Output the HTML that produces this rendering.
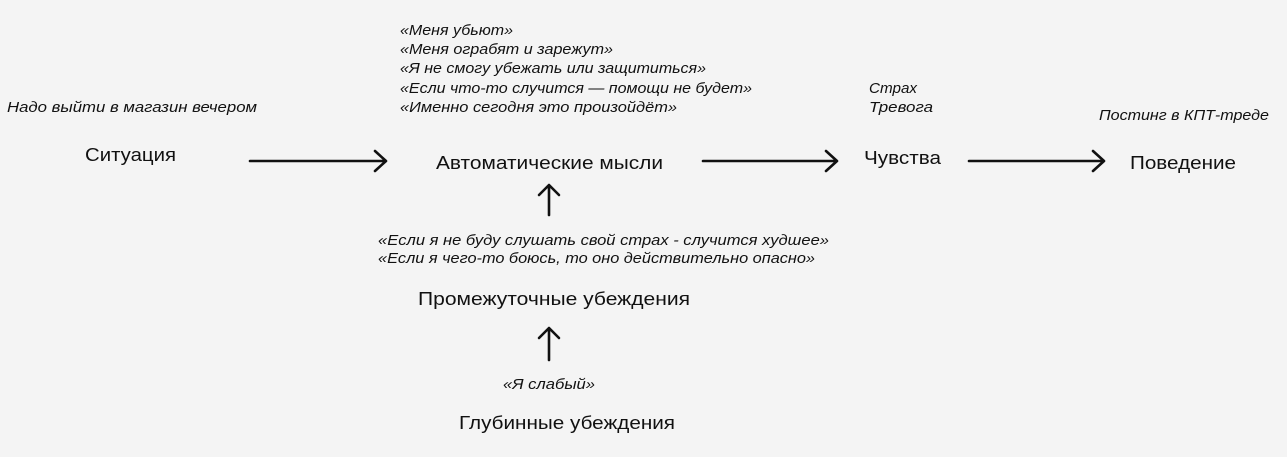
<!DOCTYPE html>
<html><head><meta charset="utf-8"><style>
html,body{margin:0;padding:0;background:#f4f4f4;}
svg{display:block;}
text{font-family:"Liberation Sans",sans-serif;fill:#111;}
.m{font-size:18.5px;}
.i{font-size:15px;font-style:italic;}
</style></head><body>
<svg width="1287" height="457" viewBox="0 0 1287 457" xmlns="http://www.w3.org/2000/svg">
<rect width="1287" height="457" fill="#f4f4f4"/>
<g class="i">
<text class="i" x="7" y="112" textLength="250" lengthAdjust="spacingAndGlyphs">Надо выйти в магазин вечером</text>
<text class="i" x="400" y="35" textLength="113" lengthAdjust="spacingAndGlyphs">«Меня убьют»</text>
<text class="i" x="400" y="54" textLength="213" lengthAdjust="spacingAndGlyphs">«Меня ограбят и зарежут»</text>
<text class="i" x="400" y="73" textLength="306" lengthAdjust="spacingAndGlyphs">«Я не смогу убежать или защититься»</text>
<text class="i" x="400" y="93" textLength="352" lengthAdjust="spacingAndGlyphs">«Если что-то случится — помощи не будет»</text>
<text class="i" x="400" y="112" textLength="277" lengthAdjust="spacingAndGlyphs">«Именно сегодня это произойдёт»</text>
<text class="i" x="869" y="93" textLength="48" lengthAdjust="spacingAndGlyphs">Страх</text>
<text class="i" x="869" y="112" textLength="64" lengthAdjust="spacingAndGlyphs">Тревога</text>
<text class="i" x="1099" y="120" textLength="170" lengthAdjust="spacingAndGlyphs">Постинг в КПТ-треде</text>
<text class="i" x="378" y="245" textLength="451" lengthAdjust="spacingAndGlyphs">«Если я не буду слушать свой страх - случится худшее»</text>
<text class="i" x="378" y="263" textLength="437" lengthAdjust="spacingAndGlyphs">«Если я чего-то боюсь, то оно действительно опасно»</text>
<text class="i" x="503" y="389" textLength="92" lengthAdjust="spacingAndGlyphs">«Я слабый»</text>
</g>
<text class="m" x="85" y="161" textLength="91" lengthAdjust="spacingAndGlyphs">Ситуация</text>
<text class="m" x="436" y="169" textLength="227" lengthAdjust="spacingAndGlyphs">Автоматические мысли</text>
<text class="m" x="864" y="164" textLength="77" lengthAdjust="spacingAndGlyphs">Чувства</text>
<text class="m" x="1130" y="169" textLength="106" lengthAdjust="spacingAndGlyphs">Поведение</text>
<text class="m" x="418" y="305" textLength="272" lengthAdjust="spacingAndGlyphs">Промежуточные убеждения</text>
<text class="m" x="459" y="429" textLength="216" lengthAdjust="spacingAndGlyphs">Глубинные убеждения</text>
<g stroke="#111" stroke-width="2.6" fill="none" stroke-linecap="round" stroke-linejoin="round">
<path d="M250 161H386M375 151L386 161L375 171"/>
<path d="M703 161H837M826 151L837 161L826 171"/>
<path d="M969 161H1104M1093 151L1104 161L1093 171"/>
<path d="M549 215V185M539 195L549 185L559 195"/>
<path d="M549 360V328M539 338L549 328L559 338"/>
</g>
</svg>
</body></html>
